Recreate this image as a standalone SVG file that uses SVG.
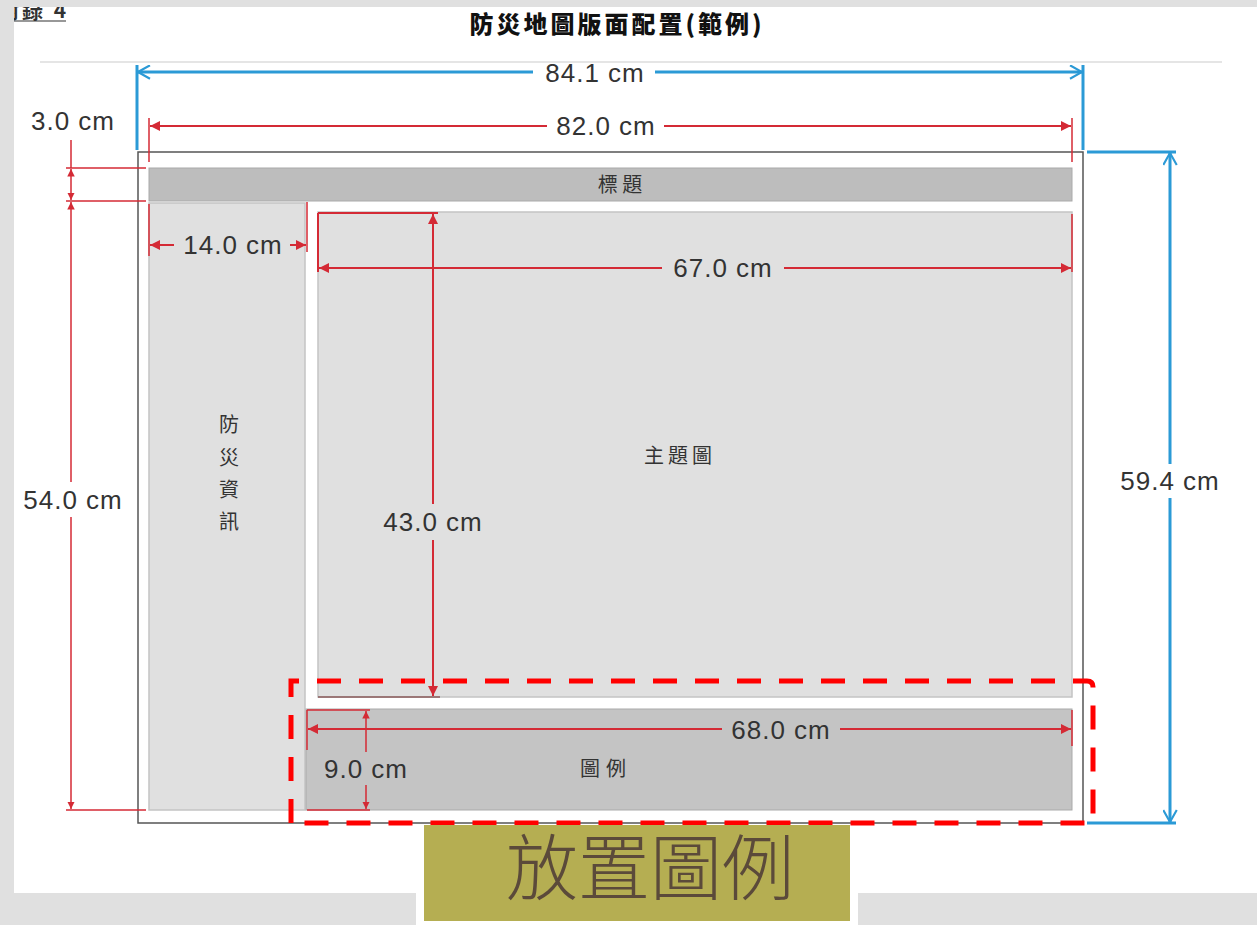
<svg xmlns="http://www.w3.org/2000/svg" width="1257" height="925" viewBox="0 0 1257 925">
<style>
.dim{font-family:"Liberation Sans",Arial,sans-serif;font-size:26px;fill:#333;letter-spacing:1px;text-anchor:middle}
.cjk{font-family:"Noto Sans CJK TC","Noto Sans CJK SC",sans-serif;fill:#333;text-anchor:middle}
.red{stroke:#d42a35;stroke-width:2;fill:none}
.redt{stroke:#d42a35;stroke-width:1.5;fill:none}
.blue{stroke:#2b9ad6;stroke-width:3;fill:none}
.panel{fill:#e0e0e0;stroke:#c4c4c4;stroke-width:1.5}
.bar{fill:#bdbdbd;stroke:#aaa;stroke-width:1}
</style>
<defs>
<marker id="ra" viewBox="0 0 10 10" refX="10" refY="5" markerWidth="5" markerHeight="5" orient="auto-start-reverse" markerUnits="strokeWidth">
<path d="M0,0 L10,5 L0,10 Z" fill="#d42a35"/>
</marker>
<marker id="ba" viewBox="0 0 10 10" refX="9" refY="5" markerWidth="5" markerHeight="5" orient="auto-start-reverse" markerUnits="strokeWidth">
<path d="M1,0.5 L9,5 L1,9.5" fill="none" stroke="#2b9ad6" stroke-width="1.4"/>
</marker>
<clipPath id="pg"><rect x="14" y="7" width="1243" height="886"/></clipPath>
</defs>
<rect x="0" y="0" width="1257" height="925" fill="#e0e0e0"/>
<rect x="14" y="7" width="1243" height="886" fill="#fff"/>
<rect x="416" y="893" width="442" height="32" fill="#fff"/>

<g id="header" clip-path="url(#pg)">
<text x="-2" y="18" font-family="Noto Sans CJK TC,serif" font-size="21" font-weight="bold" fill="#333" letter-spacing="3">附錄 4</text>
<line x1="14" y1="21" x2="66" y2="21" stroke="#333" stroke-width="1.2"/>
</g>
<g id="title">
<text x="617" y="33" class="cjk" font-size="24" font-weight="900" style="fill:#111;letter-spacing:3px">防災地圖版面配置(範例)</text>
</g>
<line x1="40" y1="62" x2="1222" y2="62" stroke="#ccc" stroke-width="1.2"/>

<g id="frame">
<rect x="138" y="152" width="945" height="671" fill="none" stroke="#555" stroke-width="1.5"/>
</g>
<g id="title-bar">
<rect x="149" y="168" width="923" height="33" class="bar"/>
<text x="620" y="192" class="cjk" font-size="20">標 題</text>
</g>
<g id="info-panel">
<rect x="149" y="203" width="156" height="607" class="panel"/>
<text x="229" y="432" class="cjk" font-size="20">防</text>
<text x="229" y="465" class="cjk" font-size="20">災</text>
<text x="229" y="497" class="cjk" font-size="20">資</text>
<text x="229" y="529" class="cjk" font-size="20">訊</text>
</g>
<g id="main-map">
<rect x="318" y="212" width="754" height="485" class="panel"/>
<text x="680" y="463" class="cjk" font-size="20" style="letter-spacing:4px">主題圖</text>
</g>
<g id="legend-bar">
<rect x="306" y="709" width="766" height="101" class="bar" style="fill:#c4c4c4"/>
<text x="606" y="776" class="cjk" font-size="20" style="letter-spacing:6px">圖例</text>
</g>

<g id="connectors">
<line x1="137" y1="150" x2="137" y2="65" class="blue"/>
<line x1="1083" y1="150" x2="1083" y2="65" class="blue"/>
<line x1="138" y1="72" x2="533" y2="72" class="blue" marker-start="url(#ba)"/>
<line x1="655" y1="72" x2="1082" y2="72" class="blue" marker-end="url(#ba)"/>
<line x1="1087" y1="152" x2="1176" y2="152" class="blue"/>
<line x1="1087" y1="823" x2="1176" y2="823" class="blue"/>
<line x1="1170" y1="153" x2="1170" y2="464" class="blue" marker-start="url(#ba)"/>
<line x1="1170" y1="498" x2="1170" y2="822" class="blue" marker-end="url(#ba)"/>
<line x1="149" y1="118" x2="149" y2="162" class="redt"/>
<line x1="1072" y1="118" x2="1072" y2="162" class="redt"/>
<line x1="150" y1="126" x2="547" y2="126" class="red" marker-start="url(#ra)"/>
<line x1="664" y1="126" x2="1071" y2="126" class="red" marker-end="url(#ra)"/>
<line x1="66" y1="168" x2="146" y2="168" class="redt"/>
<line x1="66" y1="201" x2="146" y2="201" class="redt"/>
<line x1="66" y1="810" x2="146" y2="810" class="redt"/>
<line x1="71" y1="140" x2="71" y2="168" class="redt"/>
<line x1="71" y1="169" x2="71" y2="200" class="redt" marker-start="url(#ra)" marker-end="url(#ra)"/>
<line x1="71" y1="202" x2="71" y2="482" class="redt" marker-start="url(#ra)"/>
<line x1="71" y1="517" x2="71" y2="809" class="redt" marker-end="url(#ra)"/>
<line x1="149" y1="204" x2="149" y2="256" class="redt"/>
<line x1="307" y1="202" x2="307" y2="252" class="redt"/>
<line x1="150" y1="245" x2="174" y2="245" class="red" marker-start="url(#ra)"/>
<line x1="290" y1="245" x2="306" y2="245" class="red" marker-end="url(#ra)"/>
<line x1="318" y1="213" x2="438" y2="213" class="red"/>
<line x1="318" y1="213" x2="318" y2="272" class="red"/>
<line x1="1072" y1="214" x2="1072" y2="272" class="redt"/>
<line x1="319" y1="268" x2="662" y2="268" class="red" marker-start="url(#ra)"/>
<line x1="784" y1="268" x2="1071" y2="268" class="red" marker-end="url(#ra)"/>
<line x1="318" y1="697" x2="440" y2="697" stroke="#8a5a5a" stroke-width="1.5"/>
<line x1="433" y1="214" x2="433" y2="504" class="red" marker-start="url(#ra)"/>
<line x1="433" y1="540" x2="433" y2="696" class="red" marker-end="url(#ra)"/>
<line x1="307" y1="710" x2="307" y2="750" class="redt"/>
<line x1="1072" y1="710" x2="1072" y2="746" class="redt"/>
<line x1="308" y1="729" x2="722" y2="729" class="red" marker-start="url(#ra)"/>
<line x1="840" y1="729" x2="1071" y2="729" class="red" marker-end="url(#ra)"/>
<line x1="307" y1="710" x2="370" y2="710" class="redt"/>
<line x1="307" y1="810" x2="370" y2="810" class="redt"/>
<line x1="366" y1="711" x2="366" y2="752" class="redt" marker-start="url(#ra)"/>
<line x1="366" y1="785" x2="366" y2="809" class="redt" marker-end="url(#ra)"/>
</g>

<g id="labels">
<text x="595" y="82" class="dim">84.1 cm</text>
<text x="606" y="135" class="dim">82.0 cm</text>
<text x="73" y="130" class="dim">3.0 cm</text>
<text x="233" y="254" class="dim">14.0 cm</text>
<text x="723" y="277" class="dim">67.0 cm</text>
<text x="73" y="509" class="dim">54.0 cm</text>
<text x="433" y="531" class="dim">43.0 cm</text>
<text x="1170" y="490" class="dim">59.4 cm</text>
<text x="781" y="739" class="dim">68.0 cm</text>
<text x="366" y="778" class="dim">9.0 cm</text>
</g>

<g id="highlight">
<path d="M291,823 L291,681 L1087,681 Q1093,681 1093,687 L1093,823 L291,823" fill="none" stroke="#ff0000" stroke-width="5" stroke-dasharray="24,18"/>
</g>
<g id="callout">
<rect x="424" y="825" width="426" height="96" fill="#b5ae52"/>
<text x="650" y="894" class="cjk" font-size="72" style="fill:#5b4a3a;font-weight:300">放置圖例</text>
</g>
</svg>
